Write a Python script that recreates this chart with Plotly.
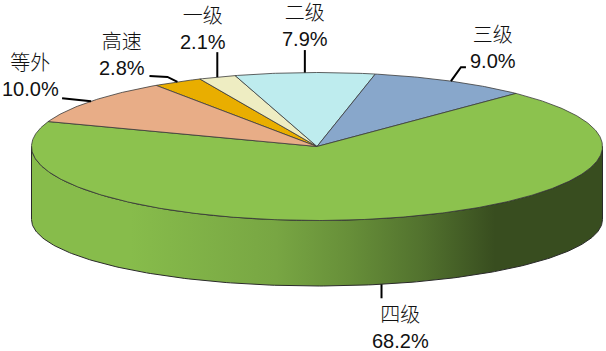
import numpy as np
import plotly.graph_objects as go

# ---- data ----
categories = ['高速', '一级', '二级', '三级', '四级', '等外']
values = [2.8, 2.1, 7.9, 9.0, 68.2, 10.0]
pct_labels = ['2.8%', '2.1%', '7.9%', '9.0%', '68.2%', '10.0%']

# ---- style ----
colors = ['#E9AE00', '#EEEDC2', '#BEECEE', '#88A7CB', '#8CC24E', '#E8AD87']
CX, CY, RX, RY = 317.0, 146.5, 285.5, 74.0      # top ellipse
BCY, BRY = 219.5, 66.5                          # bottom ellipse
START = 124.3                                   # start angle, clockwise
W, H = 606, 351
FONT = 'Liberation Sans, Arial, Noto Sans CJK SC'
# leader path offsets (relative to the slice-edge anchor) and label offsets (relative to the path end)
leader_paths = {
    '高速': [(-10, -5), (-28, -6)],
    '一级': [(0, -25)],
    '二级': [(0, -22.5)],
    '三级': [(10, -14), (15, -14)],
    '四级': [(0, 14)],
    '等外': [(-29, -3)],
}
label_offsets = {
    '高速': (-27.5, -21),
    '一级': (-14, -23.5),
    '二级': (0, -24.5),
    '三级': (27.5, -19.5),
    '四级': (19, 29.5),
    '等外': (-32, -22),
}


def top_pt(deg):
    r = np.radians(deg)
    return CX + RX * np.cos(r), CY - RY * np.sin(r)


def bot_pt(deg):
    r = np.radians(deg)
    return CX + RX * np.cos(r), BCY - BRY * np.sin(r)


def shade(hexcol, f):
    h = hexcol.lstrip('#')
    r, g, b = (int(h[i:i + 2], 16) for i in (0, 2, 4))
    return 'rgb(%d,%d,%d)' % (r * f, g * f, b * f)


total = float(sum(values))
spans = [v / total * 360.0 for v in values]
bounds = []
a = START
for s in spans:
    bounds.append((a, a - s))
    a -= s

fig = go.Figure()

# ---- side walls (front half, angles 180..360) ----
for (a1, a2), col in zip(bounds, colors):
    for k in (-360, 0, 360):
        lo, hi = a2 + k, a1 + k
        lo2, hi2 = max(lo, 180.0), min(hi, 360.0)
        if hi2 - lo2 > 0.01:
            th = np.linspace(lo2, hi2, 200)
            tx, ty = top_pt(th)
            bx, by = bot_pt(th[::-1])
            xs = np.concatenate([tx, bx, tx[:1]])
            ys = np.concatenate([ty, by, ty[:1]])
            fig.add_trace(go.Scatter(
                x=xs, y=ys, mode='lines', fill='toself',
                line=dict(color='#2a2a2a', width=1),
                fillgradient=dict(type='horizontal', start=130, stop=495,
                                  colorscale=[[0, shade(col, 0.97)], [0.4, shade(col, 0.86)],
                                              [0.6, shade(col, 0.74)], [0.8, shade(col, 0.59)],
                                              [1, shade(col, 0.40)]]),
                hoverinfo='skip', showlegend=False))

# ---- top face slices ----
for (a1, a2), col in zip(bounds, colors):
    n = max(6, int(abs(a1 - a2) * 2))
    th = np.linspace(a1, a2, n)
    ax_, ay_ = top_pt(th)
    xs = np.concatenate([[CX], ax_, [CX]])
    ys = np.concatenate([[CY], ay_, [CY]])
    fig.add_trace(go.Scatter(
        x=xs, y=ys, mode='lines', fill='toself', fillcolor=col,
        line=dict(color='#3a3a3a', width=0.8),
        hoverinfo='skip', showlegend=False))

# ---- leader lines and labels ----
annotations = []
for (a1, a2), cat, pct in zip(bounds, categories, pct_labels):
    mid = (a1 + a2) / 2.0
    if np.sin(np.radians(mid)) < 0:
        ax0, ay0 = bot_pt(mid)
    else:
        ax0, ay0 = top_pt(mid)
    px = [ax0] + [ax0 + dx for dx, dy in leader_paths[cat]]
    py = [ay0] + [ay0 + dy for dx, dy in leader_paths[cat]]
    fig.add_trace(go.Scatter(x=px, y=py, mode='lines',
                             line=dict(color='#000000', width=2),
                             hoverinfo='skip', showlegend=False))
    ox, oy = label_offsets[cat]
    annotations.append(dict(
        x=px[-1] + ox, y=py[-1] + oy, xref='x', yref='y',
        text=f'<span style="font-weight:300">{cat}</span><br>{pct}', showarrow=False,
        xanchor='center', yanchor='middle', align='center',
        font=dict(family=FONT, size=20, color='#111111')))

fig.update_layout(
    width=W, height=H, margin=dict(l=0, r=0, t=0, b=0),
    paper_bgcolor='white', plot_bgcolor='white',
    xaxis=dict(range=[0, W], visible=False, fixedrange=True),
    yaxis=dict(range=[H, 0], visible=False, fixedrange=True),
    annotations=annotations, showlegend=False,
)

fig.write_html('out.html')
